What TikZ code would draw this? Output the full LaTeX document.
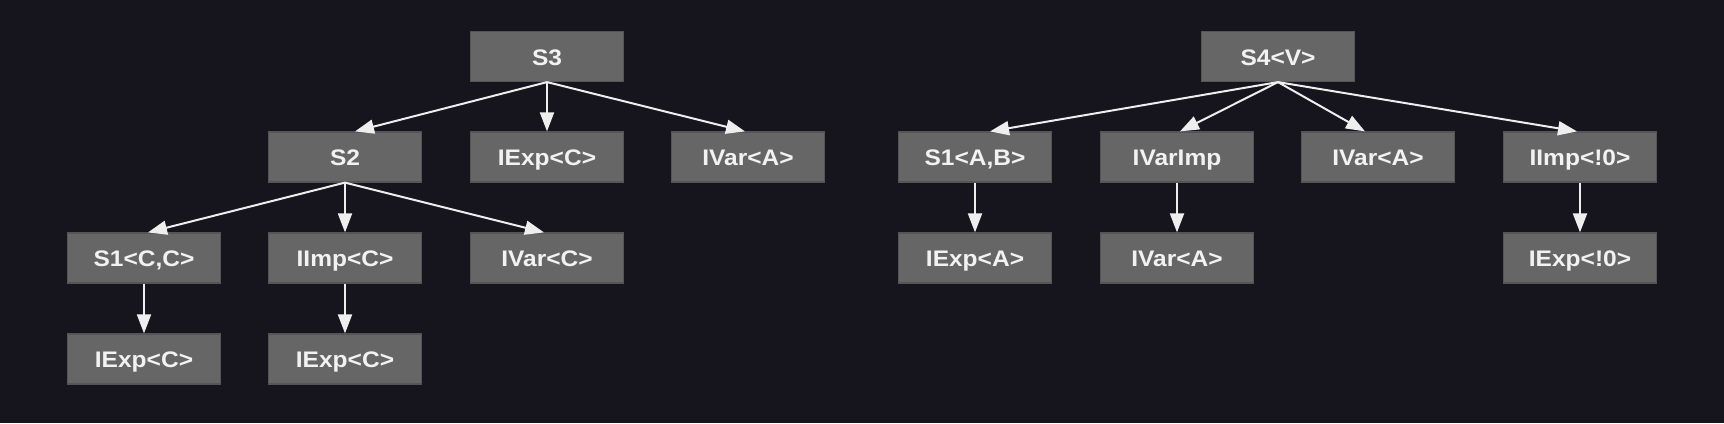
\documentclass[tikz,border=0pt]{standalone}
\usepackage{fontspec}
\setmainfont{Liberation Sans}[FakeStretch=1.09]
\usetikzlibrary{arrows.meta}
\definecolor{bgc}{HTML}{16141C}
\definecolor{boxfill}{HTML}{666666}
\definecolor{boxline}{HTML}{555555}
\definecolor{txt}{HTML}{F2F2F2}
\definecolor{edgec}{HTML}{EEEEEE}
\tikzset{
  box/.style={draw=boxline, line width=1.2pt, fill=boxfill, minimum width=153pt, minimum height=50pt, inner sep=0pt, text height=17pt, text depth=0pt, text=txt, font=\fontsize{22.5}{26}\selectfont\bfseries},
  edge/.style={draw=edgec, line width=2pt, -{Triangle[length=19pt,width=14pt]}}
}
\begin{document}
\begin{tikzpicture}[x=1pt,y=-1pt]
\fill[bgc] (0,0) rectangle (1724,423);
\useasboundingbox (0,0) rectangle (1724,423);
% left tree
\node[box] (s3) at (547,56.5) {S3};
\node[box] (s2) at (345,157) {S2};
\node[box] (e1) at (547,157) {IExp<C>};
\node[box] (va) at (748,157) {IVar<A>};
\node[box] (s1) at (144,258) {S1<C,C>};
\node[box] (ii) at (345,258) {IImp<C>};
\node[box] (vc) at (547,258) {IVar<C>};
\node[box] (e2) at (144,359) {IExp<C>};
\node[box] (e3) at (345,359) {IExp<C>};
% right tree
\node[box] (s4) at (1278,56.5) {S4<V>};
\node[box] (sab) at (975,157) {S1<A,B>};
\node[box] (vimp) at (1177,157) {IVarImp};
\node[box] (va2) at (1378,157) {IVar<A>};
\node[box] (i0) at (1580,157) {IImp<!0>};
\node[box] (ea) at (975,258) {IExp<A>};
\node[box] (va3) at (1177,258) {IVar<A>};
\node[box] (e0) at (1580,258) {IExp<!0>};
% edges
\draw[edge] (s3.south) -- ([xshift=10pt]s2.north);
\draw[edge] (s3.south) -- (e1.north);
\draw[edge] (s3.south) -- ([xshift=-3pt]va.north);
\draw[edge] (s2.south) -- ([xshift=4pt]s1.north);
\draw[edge] (s2.south) -- (ii.north);
\draw[edge] (s2.south) -- ([xshift=-3pt]vc.north);
\draw[edge] (s1.south) -- (e2.north);
\draw[edge] (ii.south) -- (e3.north);
\draw[edge] (s4.south) -- ([xshift=15pt]sab.north);
\draw[edge] (s4.south) -- ([xshift=3pt]vimp.north);
\draw[edge] (s4.south) -- ([xshift=-13pt]va2.north);
\draw[edge] (s4.south) -- ([xshift=-3pt]i0.north);
\draw[edge] (sab.south) -- (ea.north);
\draw[edge] (vimp.south) -- (va3.north);
\draw[edge] (i0.south) -- (e0.north);
\end{tikzpicture}
\end{document}
